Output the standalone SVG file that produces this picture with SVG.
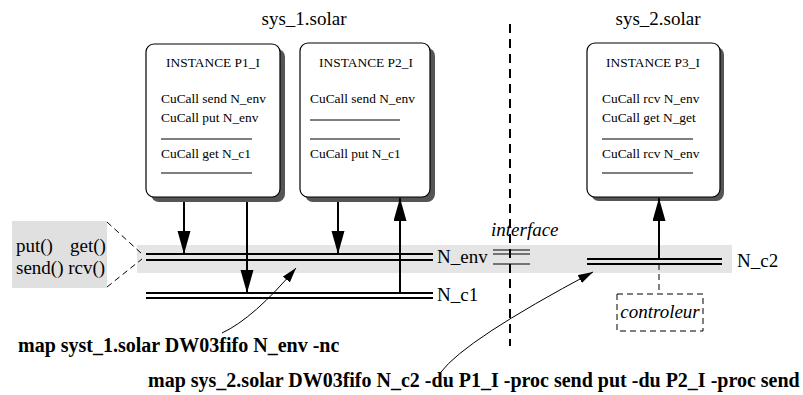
<svg xmlns="http://www.w3.org/2000/svg" width="803" height="395" viewBox="0 0 803 395">
<style>
text{font-family:"Liberation Serif","Times New Roman",serif;fill:#000}
.box{fill:#fff;stroke:#000;stroke-width:1.2}
.shadow{fill:#555}
.bt{font-size:13.4px}
.lbl{font-size:19px}
.ital{font-style:italic}
.bold{font-weight:bold;font-size:20px}
.sep{stroke:#000;stroke-width:1}
.ch{stroke:#000;stroke-width:2;fill:none}
.arr{stroke:#000;stroke-width:2;fill:none;marker-end:url(#big)}
.thin{stroke:#000;stroke-width:1;fill:none;marker-end:url(#small)}
.dash{stroke:#000;stroke-width:1;fill:none;stroke-dasharray:6 4}
</style>
<defs>
<marker id="big" markerUnits="userSpaceOnUse" markerWidth="24" markerHeight="14" refX="23" refY="6.5" orient="auto"><path d="M0,0 L23,6.5 L0,13 z" fill="#000"/></marker>
<marker id="small" markerUnits="userSpaceOnUse" markerWidth="16" markerHeight="10" refX="15" refY="4.5" orient="auto"><path d="M0,0 L15,4.5 L0,9 z" fill="#000"/></marker>
</defs>
<rect width="803" height="395" fill="#fff"/>
<rect x="137" y="245" width="595" height="28" fill="#e5e5e5"/>
<text x="304" y="25" class="lbl" text-anchor="middle">sys_1.solar</text>
<text x="658" y="25" class="lbl" text-anchor="middle">sys_2.solar</text>
<line x1="510" y1="24" x2="510" y2="346" stroke="#000" stroke-width="2" stroke-dasharray="9 6"/>
<g id="legend">
<rect x="12" y="221" width="95" height="67" fill="#e0e0e0"/>
<text class="lbl" y="252"><tspan x="16">put()</tspan><tspan x="70">get()</tspan></text>
<text class="lbl" x="16" y="274">send() rcv()</text>
<line class="dash" x1="107" y1="222" x2="142" y2="254"/>
<line class="dash" x1="107" y1="287" x2="142" y2="259"/>
</g>
<g id="P1_I">
<rect class="shadow" x="151" y="49" width="134" height="153" rx="8"/>
<rect class="box" x="146" y="44" width="134" height="153" rx="8"/>
<text class="bt" x="213" y="67" text-anchor="middle">INSTANCE P1_I</text>
<text class="bt" x="161" y="103">CuCall send N_env</text>
<text class="bt" x="161" y="122">CuCall put N_env</text>
<line class="sep" x1="161" y1="139" x2="252" y2="139"/>
<text class="bt" x="161" y="158">CuCall get N_c1</text>
<line class="sep" x1="161" y1="173" x2="252" y2="173"/>
</g>
<g id="P2_I">
<rect class="shadow" x="305" y="48" width="130" height="154" rx="8"/>
<rect class="box" x="300" y="43" width="130" height="154" rx="8"/>
<text class="bt" x="366" y="67" text-anchor="middle">INSTANCE P2_I</text>
<text class="bt" x="310" y="103">CuCall send N_env</text>
<line class="sep" x1="310" y1="120" x2="400" y2="120"/>
<line class="sep" x1="310" y1="139" x2="400" y2="139"/>
<text class="bt" x="310" y="158">CuCall put N_c1</text>
</g>
<g id="P3_I">
<rect class="shadow" x="591" y="47" width="133" height="154" rx="8"/>
<rect class="box" x="587" y="43" width="133" height="154" rx="8"/>
<text class="bt" x="653" y="67" text-anchor="middle">INSTANCE P3_I</text>
<text class="bt" x="602" y="103">CuCall rcv N_env</text>
<text class="bt" x="602" y="122">CuCall get N_get</text>
<line class="sep" x1="602" y1="139" x2="693" y2="139"/>
<text class="bt" x="602" y="158">CuCall rcv N_env</text>
<line class="sep" x1="602" y1="173" x2="693" y2="173"/>
</g>
<g id="N_env">
<line class="ch" x1="146" y1="254" x2="433" y2="254"/>
<line class="ch" x1="146" y1="260" x2="433" y2="260"/>
<text class="lbl" x="437" y="263">N_env</text>
</g>
<g id="N_c1">
<line class="ch" x1="146" y1="293" x2="433" y2="293"/>
<line class="ch" x1="146" y1="298" x2="433" y2="298"/>
<text class="lbl" x="437" y="301">N_c1</text>
</g>
<g id="interface">
<line class="sep" x1="493" y1="250" x2="530" y2="250"/>
<line class="sep" x1="493" y1="254" x2="530" y2="254"/>
<line class="sep" x1="493" y1="264" x2="530" y2="264"/>
<text class="lbl ital" x="491" y="236">interface</text>
</g>
<g id="N_c2">
<line class="ch" x1="587" y1="259" x2="722" y2="259"/>
<line class="ch" x1="587" y1="264" x2="722" y2="264"/>
<text class="lbl" x="737" y="267">N_c2</text>
</g>
<g id="controleur">
<rect x="617" y="294" width="86" height="37" fill="none" stroke="#000" stroke-width="1" stroke-dasharray="6 4"/>
<text class="lbl ital" x="660" y="318" text-anchor="middle">controleur</text>
</g>
<g id="connectors">
<line class="arr" x1="184" y1="202" x2="184" y2="254"/>
<line class="arr" x1="247" y1="202" x2="247" y2="293"/>
<line class="arr" x1="338" y1="202" x2="338" y2="254"/>
<line class="arr" x1="400" y1="293" x2="400" y2="198"/>
<line class="arr" x1="659" y1="260" x2="659" y2="198"/>
<line class="dash" x1="659" y1="264" x2="659" y2="294"/>
<path class="thin" d="M222,333 Q254,318 296,268"/>
<path class="thin" d="M441,372 Q465,340 593,272"/>
</g>
<text class="bold" x="18" y="352">map syst_1.solar DW03fifo N_env -nc</text>
<text class="bold" x="148" y="387">map sys_2.solar DW03fifo N_c2 -du P1_I -proc send put -du P2_I -proc send</text>
</svg>
